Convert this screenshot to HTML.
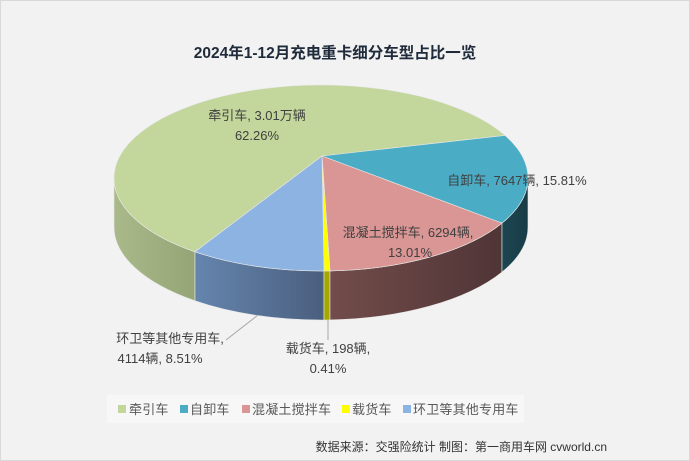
<!DOCTYPE html>
<html><head><meta charset="utf-8"><style>
body{margin:0;background:#fff}
svg{display:block;font-family:"Liberation Sans","Noto Sans CJK SC",sans-serif}
</style></head><body>
<svg width="690" height="461" viewBox="0 0 690 461" xmlns="http://www.w3.org/2000/svg">
<defs>
<linearGradient id="gs" x1="0" x2="1"><stop offset="0" stop-color="#a9b98a"/><stop offset="1" stop-color="#95a575"/></linearGradient>
<linearGradient id="bs" x1="0" x2="1"><stop offset="0" stop-color="#6585ad"/><stop offset="1" stop-color="#4a5f7f"/></linearGradient>
<linearGradient id="ps" x1="0" x2="1"><stop offset="0" stop-color="#724c4a"/><stop offset="1" stop-color="#503536"/></linearGradient>
<linearGradient id="ts" x1="0" x2="1"><stop offset="0" stop-color="#1d4651"/><stop offset="1" stop-color="#173c46"/></linearGradient>
</defs>
<rect x="0.5" y="0.5" width="689" height="460" fill="#f2f2f2" stroke="#d9d9d9"/>
<text x="335" y="58" text-anchor="middle" font-size="15.5" font-weight="bold" fill="#1f2a3a">2024年1-12月充电重卡细分车型占比一览</text>
<g stroke="#e8e8e8" stroke-width="0.6">
<path d="M195,251.8 A207,93 0 0 1 114,178 L114,227 A207,93 0 0 0 195,300.8 Z" fill="url(#gs)"/>
<path d="M324,271 A207,93 0 0 1 195,251.8 L195,300.8 A207,93 0 0 0 324,320 Z" fill="url(#bs)"/>
<path d="M330,270.9 A207,93 0 0 1 324,271 L324,320 A207,93 0 0 0 330,319.9 Z" fill="#a6a600"/>
<path d="M502,223.1 A207,93 0 0 1 330,270.9 L330,319.9 A207,93 0 0 0 502,272.1 Z" fill="url(#ps)"/>
<path d="M528,178 A207,93 0 0 1 502,223.1 L502,272.1 A207,93 0 0 0 528,227 Z" fill="url(#ts)"/>
<path d="M322,156 L195,251.8 A207,93 0 1 1 505,135.4 Z" fill="#c3d69b"/>
<path d="M322,156 L505,135.4 A207,93 0 0 1 502,223.1 Z" fill="#4bacc6"/>
<path d="M322,156 L502,223.1 A207,93 0 0 1 330,270.9 Z" fill="#d99694"/>
<path d="M322,156 L330,270.9 A207,93 0 0 1 324,271 Z" fill="#ffff00"/>
<path d="M322,156 L324,271 A207,93 0 0 1 195,251.8 Z" fill="#8db3e2"/>
</g>
<g stroke="#a6a6a6" stroke-width="1" fill="none">
<path d="M258,315 L226,340"/>
<path d="M328,320 L328,340"/>
</g>
<g font-size="13" fill="#404040" text-anchor="middle">
<text x="257" y="120">牵引车, 3.01万辆</text>
<text x="257" y="140">62.26%</text>
<text x="517" y="185">自卸车, 7647辆, 15.81%</text>
<text x="408" y="237">混凝土搅拌车, 6294辆,</text>
<text x="410" y="257">13.01%</text>
<text x="170" y="343">环卫等其他专用车,</text>
<text x="160" y="363">4114辆, 8.51%</text>
<text x="328" y="353">载货车, 198辆,</text>
<text x="328" y="373">0.41%</text>
</g>
<rect x="107" y="395" width="417" height="28" fill="#f7f7f7"/>
<g font-size="13" fill="#595959" letter-spacing="0.2">
<rect x="118" y="405" width="8" height="8" fill="#c3d69b"/><text x="129" y="414">牵引车</text>
<rect x="180" y="405" width="8" height="8" fill="#4bacc6"/><text x="190" y="414">自卸车</text>
<rect x="242" y="405" width="8" height="8" fill="#d99694"/><text x="252" y="414">混凝土搅拌车</text>
<rect x="342" y="405" width="8" height="8" fill="#ffff00"/><text x="352" y="414">载货车</text>
<rect x="403" y="405" width="8" height="8" fill="#8db3e2"/><text x="413" y="414">环卫等其他专用车</text>
</g>
<text x="607" y="451" text-anchor="end" font-size="12" fill="#333">数据来源：交强险统计 制图：第一商用车网 cvworld.cn</text>
</svg>
</body></html>
